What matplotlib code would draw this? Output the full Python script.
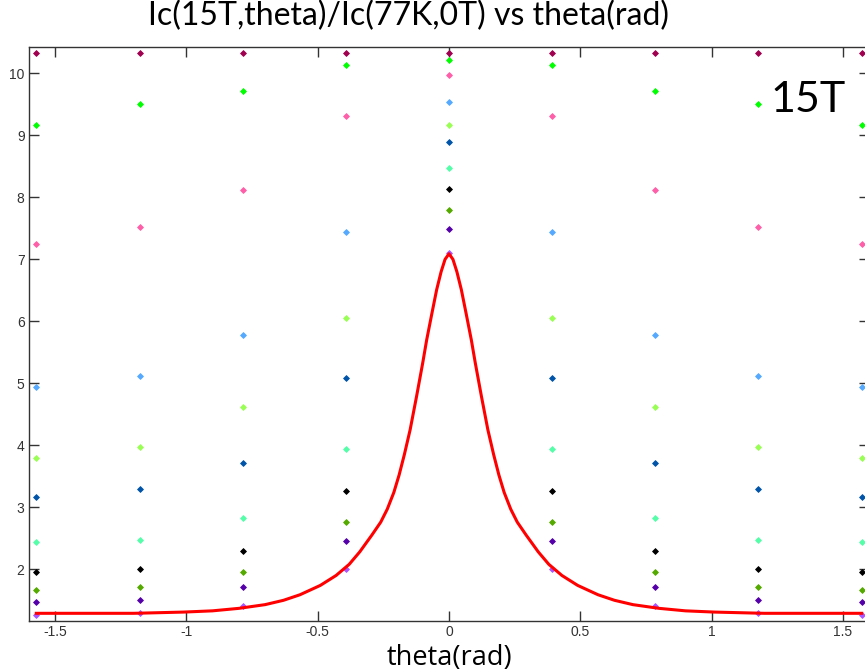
import matplotlib
matplotlib.use("Agg")
import matplotlib.pyplot as plt

# angles of the marker columns (k*pi/8)
angulos = [-1.571, -1.178, -0.785, -0.393, 0.0, 0.393, 0.785, 1.178, 1.571]

# marker series, one value per column
serie_granate = [10.33, 10.33, 10.33, 10.33, 10.33, 10.33, 10.33, 10.33, 10.33]
serie_verde = [9.17, 9.50, 9.71, 10.13, 10.21, 10.13, 9.71, 9.50, 9.17]
serie_rosa = [7.25, 7.52, 8.12, 9.31, 9.98, 9.31, 8.12, 7.52, 7.25]
serie_celeste = [4.94, 5.12, 5.78, 7.44, 9.53, 7.44, 5.78, 5.12, 4.94]
serie_lima = [3.80, 3.98, 4.62, 6.05, 9.17, 6.05, 4.62, 3.98, 3.80]
serie_azul = [3.17, 3.29, 3.72, 5.08, 8.89, 5.08, 3.72, 3.29, 3.17]
serie_aqua = [2.44, 2.47, 2.82, 3.94, 8.47, 3.94, 2.82, 2.47, 2.44]
serie_negra = [1.96, 2.01, 2.29, 3.27, 8.13, 3.27, 2.29, 2.01, 1.96]
serie_oliva = [1.67, 1.72, 1.95, 2.77, 7.80, 2.77, 1.95, 1.72, 1.67]
serie_morada = [1.48, 1.50, 1.71, 2.45, 7.49, 2.45, 1.71, 1.50, 1.48]
serie_violeta = [1.27, 1.30, 1.40, 2.00, 7.11, 2.00, 1.40, 1.30, 1.27]

series = [
    (serie_granate, "#a0004f"),
    (serie_verde, "#00ff00"),
    (serie_rosa, "#ff5fa8"),
    (serie_celeste, "#55aaff"),
    (serie_lima, "#99ff55"),
    (serie_azul, "#0055aa"),
    (serie_aqua, "#55ffaa"),
    (serie_negra, "#000000"),
    (serie_oliva, "#55aa00"),
    (serie_morada, "#5500aa"),
    (serie_violeta, "#aa55ff"),
]

# red curve Ic(15T,theta)/Ic(77K,0T)
theta = [-1.571, -1.40, -1.20, -1.01, -0.90, -0.80, -0.70, -0.63, -0.567, -0.49,
         -0.43, -0.38, -0.34, -0.294, -0.26, -0.235, -0.21, -0.19, -0.17, -0.148,
         -0.123, -0.10, -0.085, -0.065, -0.047, -0.03, -0.015, 0.0,
         0.015, 0.03, 0.047, 0.065, 0.085, 0.10, 0.123, 0.148, 0.17, 0.19,
         0.21, 0.235, 0.26, 0.294, 0.34, 0.38, 0.43, 0.49, 0.567, 0.63,
         0.70, 0.80, 0.90, 1.01, 1.20, 1.40, 1.571]
ic_ratio = [1.29, 1.29, 1.29, 1.31, 1.33, 1.37, 1.43, 1.50, 1.59, 1.74,
            1.90, 2.08, 2.28, 2.55, 2.76, 2.97, 3.24, 3.52, 3.85, 4.25,
            4.80, 5.33, 5.70, 6.13, 6.51, 6.80, 7.00, 7.09,
            7.00, 6.80, 6.51, 6.13, 5.70, 5.33, 4.80, 4.25, 3.85, 3.52,
            3.24, 2.97, 2.76, 2.55, 2.28, 2.08, 1.90, 1.74, 1.59, 1.50,
            1.43, 1.37, 1.33, 1.31, 1.29, 1.29, 1.29]

x_ticks = [-1.5, -1, -0.5, 0, 0.5, 1, 1.5]
x_tick_labels = ["-1.5", "-1", "-0.5", "0", "0.5", "1", "1.5"]
y_ticks = [2, 3, 4, 5, 6, 7, 8, 9, 10]

fig = plt.figure(figsize=(8.65, 6.71), dpi=100)
ax = fig.add_axes([28.7 / 865, 50 / 671, 840.6 / 865, 574.3 / 671])

for valores, color in series:
    ax.plot(angulos, valores, linestyle="none", marker="D", markersize=3,
            color=color, markeredgewidth=0.6, clip_on=False)

ax.plot(theta, ic_ratio, color="red", linewidth=2.2)

ax.set_xlim(-1.6, 1.6)
ax.set_ylim(1.166, 10.43)
ax.set_xticks(x_ticks)
ax.set_xticklabels(x_tick_labels)
ax.set_yticks(y_ticks)

gris = "#333333"
for lado in ax.spines.values():
    lado.set_color(gris)
    lado.set_linewidth(1.0)
ax.tick_params(direction="in", length=7, width=1, color=gris, labelcolor=gris,
               top=True, right=True, labelsize=10, pad=3)
for etiqueta in ax.get_xticklabels() + ax.get_yticklabels():
    etiqueta.set_fontfamily("Liberation Sans")

fig.text(408 / 865, 1 - 25 / 671, "Ic(15T,theta)/Ic(77K,0T) vs theta(rad)",
         ha="center", va="baseline", fontsize=23, family="Lato")
fig.text(449 / 865, 1 - 665 / 671, "theta(rad)",
         ha="center", va="baseline", fontsize=19.5, family="Open Sans")
ax.text(1.222, 9.38, "15T", ha="left", va="baseline", fontsize=31, family="Lato")

fig.savefig("out.png", dpi=100)
